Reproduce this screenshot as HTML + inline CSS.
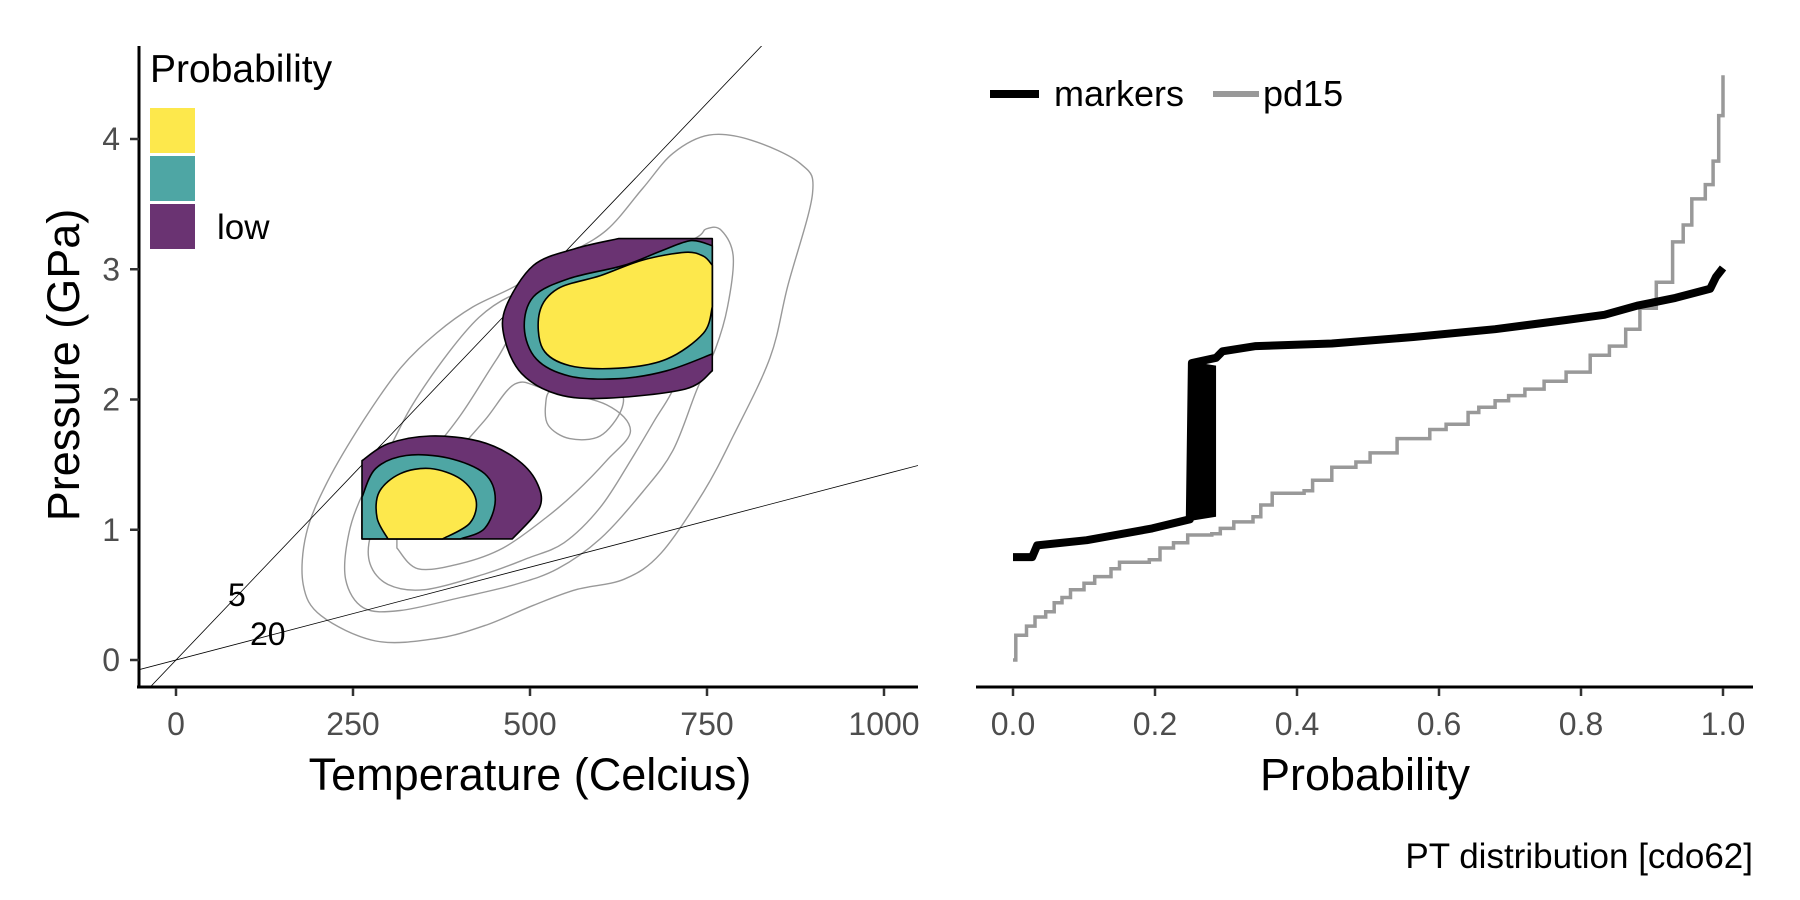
<!DOCTYPE html>
<html><head><meta charset="utf-8"><style>
html,body{margin:0;padding:0;background:#fff}
svg{display:block;font-family:"Liberation Sans",sans-serif}
</style></head><body>
<svg id="chart" width="1800" height="900" viewBox="0 0 1800 900">
<defs><clipPath id="lclip"><rect x="138" y="46" width="780" height="640"/></clipPath></defs>
<g id="left"></g>
<g id="right"></g>
<text x="1753" y="868" text-anchor="end" font-size="35" fill="#000">PT distribution [cdo62]</text>
</svg>
<script>
// ---- data ----
const xTicks=[0,250,500,750,1000];
const yTicks=[0,1,2,3,4];
const probTicks=[0,0.2,0.4,0.6,0.8,1.0];
const probTickLabels=["0.0","0.2","0.4","0.6","0.8","1.0"];
const geothermGradients=[5,20];
const contour1T=[179.7,205,282,368,436,505,565,633,685,745,787,839,864,899,882,813,753,702,659,608,548,479,419,368,317,265,214,184];
const contour1P=[0.58,0.34,0.146,0.165,0.264,0.42,0.54,0.62,0.82,1.29,1.72,2.32,2.87,3.58,3.81,3.99,4.03,3.89,3.62,3.30,3.10,2.87,2.71,2.51,2.24,1.84,1.37,0.97];
const contour2T=[239.6,265,316.7,402,479,539,599,659,702,736,762,779,787,770,749,727,608,522,471,428,385,334,300,265,244];
const contour2P=[0.62,0.40,0.38,0.48,0.58,0.70,0.93,1.29,1.61,2.08,2.39,2.71,3.10,3.30,3.31,3.22,2.95,2.87,2.79,2.63,2.36,1.96,1.61,1.29,0.97];
const contour3T=[274,299.5,351,436,496,548,599,642,676,702,710,693,608,505,453,402,351,300,275.6];
const contour3P=[0.74,0.58,0.54,0.66,0.78,0.90,1.17,1.53,1.84,2.08,2.31,2.63,2.83,2.71,2.31,1.88,1.53,1.21,0.97];
const contour4T=[312,342,402,462,522,565,608,642,608,522,479,436,385,334,312];
const contour4P=[0.86,0.70,0.74,0.86,1.09,1.29,1.53,1.76,1.96,2.08,2.12,1.84,1.53,1.25,1.01];
const contour5T=[522,526,556,599,629,625,573,531];
const contour5P=[1.96,1.80,1.70,1.72,1.92,2.08,2.16,2.08];
const upLowT=[624.8,757.5,757.5,719,608,539,488,464,466,505,565];
const upLowP=[3.235,3.235,2.22,2.08,2.01,2.04,2.20,2.47,2.71,3.03,3.16];
const upMidT=[727.5,757.5,757.5,693,625,556,509,492,505,556,633,685];
const upMidP=[3.22,3.18,2.35,2.22,2.16,2.18,2.31,2.55,2.79,2.93,3.03,3.14];
const upHighT=[745,757.5,757.5,745,693,625,556,518,513.5,539,599,659,719];
const upHighP=[3.10,3.03,2.71,2.51,2.31,2.24,2.26,2.39,2.67,2.85,2.95,3.07,3.13];
const loLowT=[262.7,299.5,359,428,479,509,513.5,475,262.7];
const loLowP=[1.53,1.66,1.72,1.68,1.55,1.37,1.17,0.93,0.93];
const loMidT=[262.7,282,325,385,436,451,436,402,262.7];
const loMidP=[1.25,1.47,1.57,1.55,1.43,1.23,1.01,0.93,0.93];
const loHighT=[299.5,284,287,316.7,359,402,423.7,415,376.6];
const loHighP=[0.93,1.09,1.29,1.43,1.47,1.39,1.23,1.05,0.93];
const pd15Prob=[0,0.004,0.019,0.031,0.046,0.058,0.069,0.081,0.1,0.115,0.138,0.15,0.192,0.207,0.226,0.246,0.28,0.292,0.311,0.338,0.349,0.365,0.41,0.422,0.449,0.483,0.503,0.541,0.587,0.61,0.641,0.656,0.679,0.698,0.721,0.748,0.779,0.813,0.84,0.863,0.883,0.906,0.929,0.944,0.956,0.975,0.986,0.994,1.0];
const pd15P=[0,0.19,0.26,0.33,0.37,0.44,0.48,0.54,0.59,0.64,0.70,0.75,0.77,0.86,0.90,0.96,0.97,1.01,1.06,1.10,1.19,1.28,1.30,1.38,1.48,1.52,1.59,1.70,1.77,1.81,1.90,1.94,1.99,2.03,2.08,2.14,2.21,2.34,2.41,2.54,2.70,2.90,3.21,3.34,3.54,3.65,3.83,4.18,4.49];
const markersProb=[0,0.027,0.034,0.104,0.196,0.249,0.252,0.286,0.295,0.342,0.449,0.564,0.679,0.779,0.833,0.879,0.933,0.982,0.99,1.0];
const markersP=[0.79,0.79,0.88,0.92,1.01,1.08,2.28,2.32,2.37,2.41,2.43,2.48,2.54,2.61,2.65,2.72,2.78,2.85,2.94,3.01];
const bandProb=[0.252,0.286];
const bandLow=[1.07,1.10];
const bandHigh=[2.29,2.26];

// ---- scales ----
const xT=t=>176+t*0.708;
const yP=p=>660-p*130.25;
const xPr=q=>1013+q*710;
const NS="http://www.w3.org/2000/svg";
function mk(tag,attrs,parent){const e=document.createElementNS(NS,tag);for(const k in attrs)e.setAttribute(k,attrs[k]);parent.appendChild(e);return e;}
function smoothClosed(pts){const n=pts.length;let d=`M${pts[0][0].toFixed(1)},${pts[0][1].toFixed(1)}`;
 const straight=(a,b)=>Math.abs(a[0]-b[0])<0.01||Math.abs(a[1]-b[1])<0.01;
 for(let i=0;i<n;i++){const p0=pts[(i-1+n)%n],p1=pts[i],p2=pts[(i+1)%n],p3=pts[(i+2)%n];
  if(straight(p1,p2)){d+=`L${p2[0].toFixed(1)},${p2[1].toFixed(1)}`;continue;}
  const q0=straight(p0,p1)?p1:p0, q3=straight(p2,p3)?p2:p3;
  const c1=[p1[0]+(p2[0]-q0[0])/6,p1[1]+(p2[1]-q0[1])/6],c2=[p2[0]-(q3[0]-p1[0])/6,p2[1]-(q3[1]-p1[1])/6];
  d+=`C${c1[0].toFixed(1)},${c1[1].toFixed(1)} ${c2[0].toFixed(1)},${c2[1].toFixed(1)} ${p2[0].toFixed(1)},${p2[1].toFixed(1)}`;}
 return d+"Z";}
const L=document.getElementById('left'), R=document.getElementById('right');
const plot=mk('g',{'clip-path':'url(#lclip)'},L);


[[contour1T,contour1P],[contour2T,contour2P],[contour3T,contour3P],[contour4T,contour4P],[contour5T,contour5P]].forEach((c,i)=>{
 const e=mk('path',{d:smoothClosed(c[0].map((t,j)=>[xT(t),yP(c[1][j])])),fill:'none',stroke:'#999',"stroke-width":1.4},plot);
 
 
});
geothermGradients.forEach(g=>{const k=0.0285/g;
 const e=mk('line',{x1:xT(-100),y1:yP(-100*k),x2:xT(1100),y2:yP(1100*k),stroke:'#000',"stroke-width":0.8},plot);
 
 
});
const fills=[[upLowT,upLowP,'#6a3372'],[upMidT,upMidP,'#4ea6a4'],[upHighT,upHighP,'#fde84c'],[loLowT,loLowP,'#6a3372'],[loMidT,loMidP,'#4ea6a4'],[loHighT,loHighP,'#fde84c']];
fills.forEach((f,i)=>{
 const e=mk('path',{d:smoothClosed(f[0].map((t,j)=>[xT(t),yP(f[1][j])])),fill:f[2],stroke:'#000',"stroke-width":1.6,"stroke-linejoin":"round"},plot);
 
 
});
let gl=mk('text',{x:228,y:606,'font-size':32},L);gl.textContent='5';


gl=mk('text',{x:250,y:645,'font-size':32},L);gl.textContent='20';


let ax=mk('path',{d:'M139,46V688M137,687H918',stroke:'#000',"stroke-width":3,fill:'none'},L);


xTicks.forEach(t=>{mk('line',{x1:xT(t),x2:xT(t),y1:688,y2:696,stroke:'#333',"stroke-width":2.5},L);
 const e=mk('text',{x:xT(t),y:735,'font-size':32,fill:'#4d4d4d','text-anchor':'middle'},L);e.textContent=t;
 
 });
yTicks.forEach(p=>{mk('line',{x1:130,x2:139,y1:yP(p),y2:yP(p),stroke:'#333',"stroke-width":2.5},L);
 const e=mk('text',{x:120,y:yP(p)+11,'font-size':32,fill:'#4d4d4d','text-anchor':'end'},L);e.textContent=p;
 
 });
let t=mk('text',{x:530,y:790,'font-size':45,'text-anchor':'middle'},L);t.textContent='Temperature (Celcius)';


t=mk('text',{x:0,y:0,'font-size':45,'text-anchor':'middle',transform:'translate(79,365) rotate(-90)'},L);t.textContent='Pressure (GPa)';


t=mk('text',{x:150,y:82,'font-size':39},L);t.textContent='Probability';


[['#fde84c',108],['#4ea6a4',156],['#6a3372',204]].forEach((b,i)=>{const e=mk('rect',{x:150,y:b[1],width:45,height:45,fill:b[0]},L);
 
 });
t=mk('text',{x:217,y:239,'font-size':35},L);t.textContent='low';


function stepPath(xs,ys){let d=`M${xPr(xs[0])},${yP(ys[0])}`;for(let i=1;i<xs.length;i++){d+=`H${xPr(xs[i]).toFixed(1)}V${yP(ys[i]).toFixed(1)}`;}return d;}
let pl=mk('path',{d:stepPath(pd15Prob,pd15P),fill:'none',stroke:'#999',"stroke-width":3.5},R);


let band=mk('polygon',{points:`${xPr(bandProb[0])},${yP(bandLow[0])} ${xPr(bandProb[1])},${yP(bandLow[1])} ${xPr(bandProb[1])},${yP(bandHigh[1])} ${xPr(bandProb[0])},${yP(bandHigh[0])}`,fill:'#000'},R);


pl=mk('path',{d:'M'+markersProb.map((q,i)=>`${xPr(q).toFixed(1)},${yP(markersP[i]).toFixed(1)}`).join('L'),fill:'none',stroke:'#000',"stroke-width":8,"stroke-linejoin":"round"},R);


ax=mk('line',{x1:976,x2:1753,y1:687,y2:687,stroke:'#000',"stroke-width":3},R);


probTicks.forEach((q,i)=>{mk('line',{x1:xPr(q),x2:xPr(q),y1:688,y2:696,stroke:'#333',"stroke-width":2.5},R);
 const e=mk('text',{x:xPr(q),y:735,'font-size':32,fill:'#4d4d4d','text-anchor':'middle'},R);e.textContent=probTickLabels[i];
 
 });
t=mk('text',{x:1365,y:790,'font-size':45,'text-anchor':'middle'},R);t.textContent='Probability';


let lg=mk('line',{x1:990,x2:1039,y1:94,y2:94,stroke:'#000',"stroke-width":8},R);


t=mk('text',{x:1054,y:106,'font-size':36},R);t.textContent='markers';


lg=mk('line',{x1:1213,x2:1259,y1:94,y2:94,stroke:'#999',"stroke-width":6},R);


t=mk('text',{x:1263,y:106,'font-size':36},R);t.textContent='pd15';


</script>
</body></html>
